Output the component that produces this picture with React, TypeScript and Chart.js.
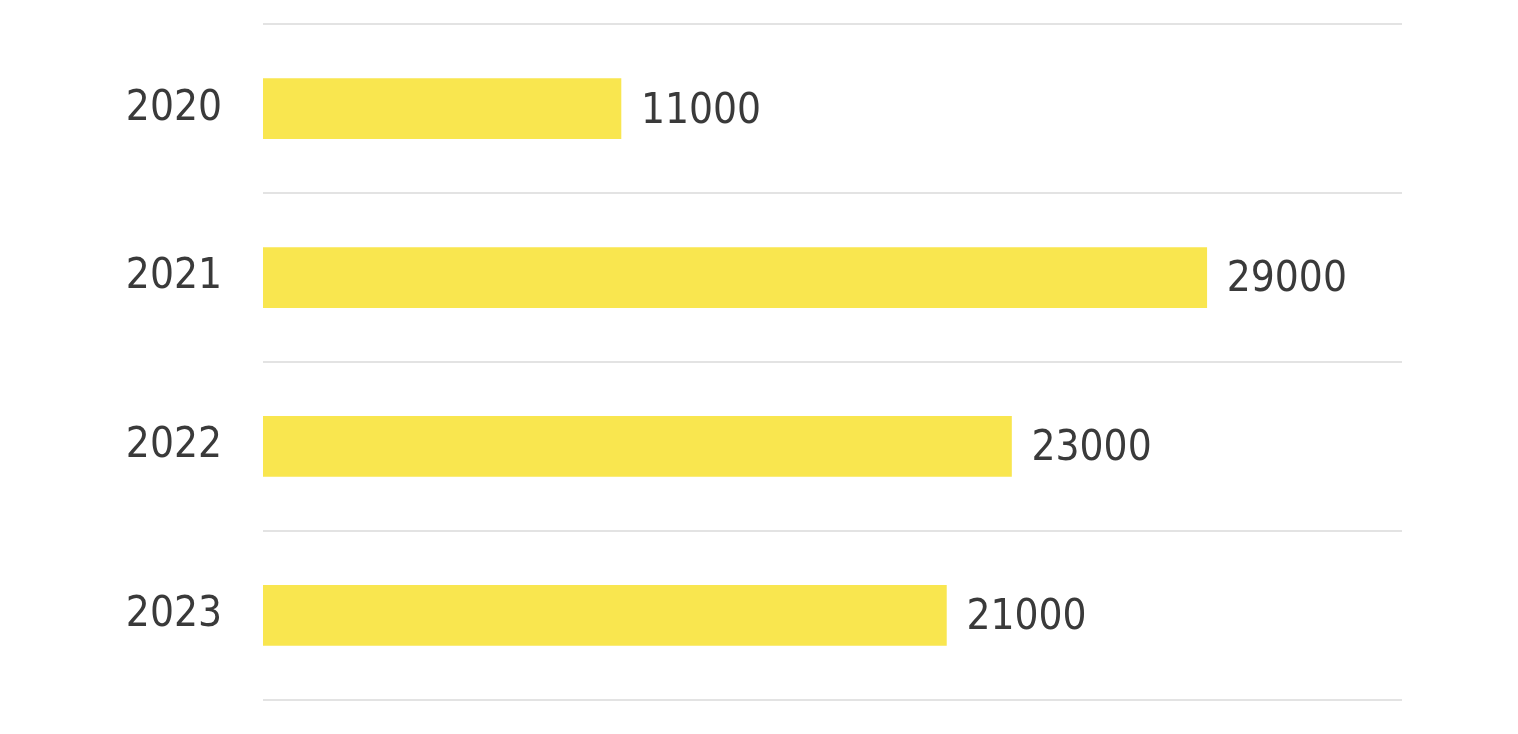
import React, { useEffect, useRef } from "react";
import { Chart, registerables } from "chart.js";

Chart.register(...registerables);

const categories = ["2020", "2021", "2022", "2023"];
const values = [11000, 29000, 23000, 21000];
const xMax = 35000;

const FONT = "'DejaVu Sans Condensed', 'DejaVu Sans', sans-serif";
const TEXT = "#3a3a3a";

const valueLabels = {
  id: "valueLabels",
  afterDatasetsDraw(chart: any) {
    const ctx = chart.ctx;
    const meta = chart.getDatasetMeta(0);
    ctx.save();
    ctx.font = `42px ${FONT}`;
    ctx.fillStyle = TEXT;
    ctx.textAlign = "left";
    ctx.textBaseline = "middle";
    meta.data.forEach((bar: any, i: number) => {
      ctx.fillText(String(values[i]), bar.x + 20, bar.y + 3);
    });
    ctx.restore();
  },
};

export default function App() {
  const ref = useRef<HTMLCanvasElement>(null);
  useEffect(() => {
    document.body.style.margin = "0";
    document.body.style.overflow = "hidden";
    const chart = new Chart(ref.current!, {
      type: "bar",
      data: {
        labels: categories,
        datasets: [
          {
            data: values,
            backgroundColor: "#F9E64F",
            borderWidth: 0,
            barThickness: 60,
          },
        ],
      },
      options: {
        indexAxis: "y",
        animation: false,
        responsive: true,
        maintainAspectRatio: false,
        layout: { padding: { left: 0, top: 24, right: 116, bottom: 34 } },
        plugins: { legend: { display: false }, tooltip: { enabled: false } },
        scales: {
          x: { display: false, min: 0, max: xMax },
          y: {
            border: { display: false },
            grid: { color: "#e3e3e3", lineWidth: 2, drawTicks: false, offset: true },
            ticks: {
              color: TEXT,
              font: { family: FONT, size: 42 },
              padding: 41,
            },
            afterFit(scale: any) {
              scale.width = 263;
            },
          },
        },
      },
      plugins: [valueLabels],
    });
    return () => chart.destroy();
  }, []);
  return (
    <div style={{ position: "fixed", left: 0, top: -42, width: 1518, height: 808 }}>
      <canvas ref={ref} />
    </div>
  );
}
